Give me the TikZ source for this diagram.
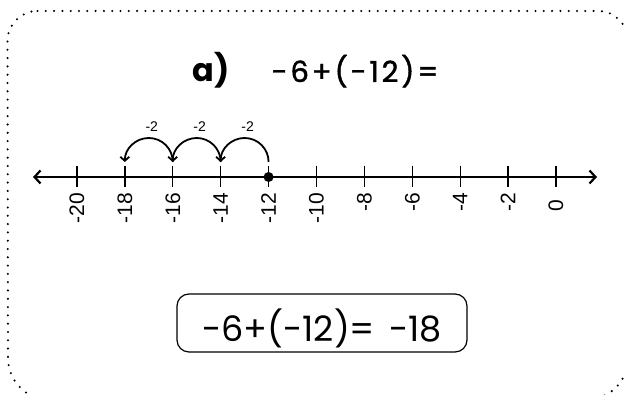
\documentclass[tikz,border=0pt]{standalone}
\usepackage{fontspec}
\setmainfont{Liberation Sans}
\newfontfamily\poppins{Poppins}
\newfontfamily\poppinswide[LetterSpace=10,FakeBold=1.5]{Poppins}
\usetikzlibrary{positioning}
\usetikzlibrary{arrows.meta}

\begin{document}
\begin{tikzpicture}[
    x=1pt, y=1pt,
    frame/.style={line width=2.3pt, line cap=round, dash pattern=on 0pt off 8.3pt},
    axis/.style={line width=2.2pt, {Straight Barb[length=6pt,width=13pt]}-{Straight Barb[length=6pt,width=13pt]}},
    tickmark/.style={line width=1.3pt},
    num/.style={rotate=90, anchor=east, inner sep=0pt, font=\fontsize{21}{21}\selectfont},
    hop/.style={line width=1.8pt, -{Straight Barb[length=4pt,width=9pt]}},
    hoplabel/.style={inner sep=0pt, anchor=south, font=\fontsize{14}{14}\selectfont},
    expr/.style={inner sep=0pt, anchor=base, font=\poppinswide\fontsize{29}{29}\selectfont},
    answer/.style={draw, line width=1.2pt, rounded corners=12pt, inner sep=0pt,
                   minimum width=290pt, text height=48pt, text depth=10pt, anchor=base,
                   font=\poppins\fontsize{35}{35}\selectfont}
]
    \clip (0,0) rectangle (624,395);

    \draw[frame] (37.5,384) -- (598,384) arc[start angle=90, end angle=0, radius=30]
        -- (628,37) arc[start angle=0, end angle=-90, radius=42]
        -- (50,-5) arc[start angle=270, end angle=180, radius=42]
        -- (7.5,354) arc[start angle=180, end angle=90, radius=30] -- cycle;

    \node[expr] (eq) at (355,313) {-6+(-12)=};
    \node[expr, font=\poppins\bfseries\fontsize{32}{32}\selectfont, base left=42pt of eq] (part) {a)};

    \coordinate (left) at (33,218);
    \coordinate (right) at (597,218);
    \draw[axis] (left) -- (right);

    \foreach \v [count=\i] in {-20,-18,...,0} {
        \coordinate (p\i) at ({556+23.95*\v},218);
        \draw[tickmark] (p\i) +(0,11) -- +(0,-10);
        \ifnum\v=0
            \node[num] (n\i) at ([yshift=-23pt]p\i) {\v};
        \else
            \node[num] (n\i) at ([yshift=-16pt]p\i) {\v};
        \fi
    }

    \fill (p5) circle[radius=5];

    \foreach \a/\b in {5/4,4/3,3/2} {
        \draw[hop] ([yshift=15pt]p\a) arc[start angle=0, end angle=90, radius=24] coordinate (top\b)
            arc[start angle=90, end angle=180, radius=24];
        \node[hoplabel] (h\b) at ([xshift=3pt,yshift=6pt]top\b) {-2};
    }

    \node[answer] (res) at (322,53) {-6+(-12)=\hspace{14pt}-18};
\end{tikzpicture}
\end{document}
